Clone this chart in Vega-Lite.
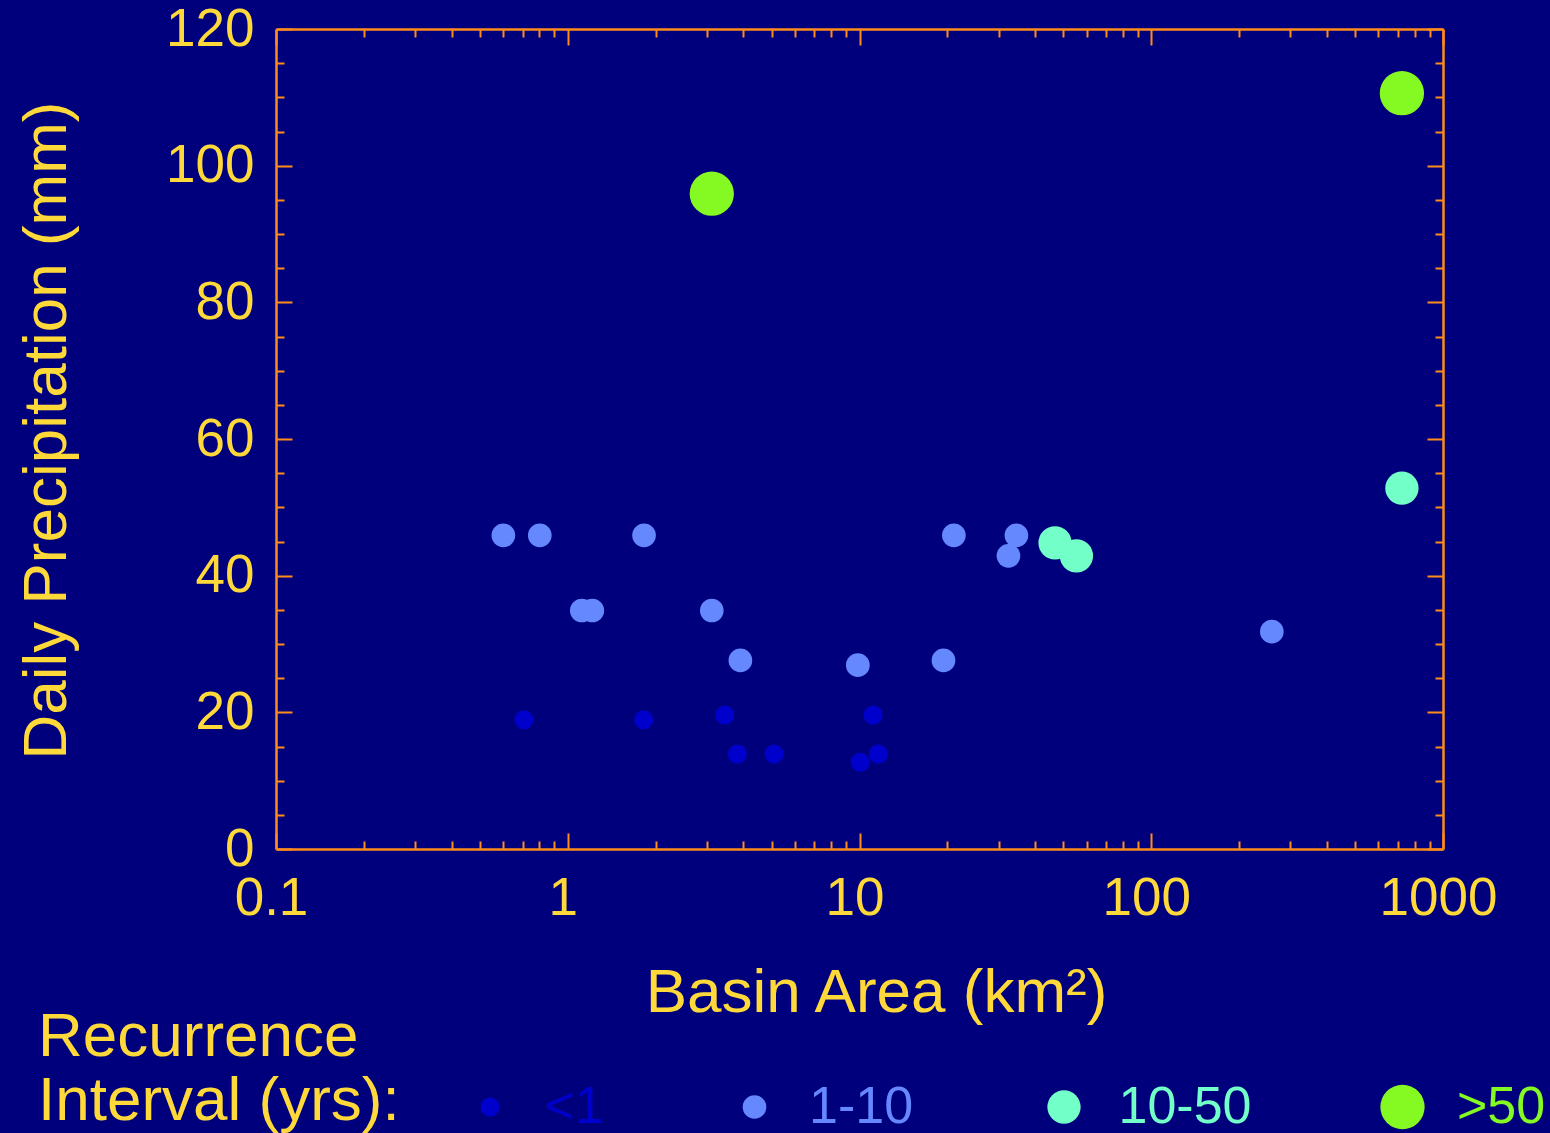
{
  "$schema": "https://vega.github.io/schema/vega-lite/v6.json",
  "width": 1167,
  "height": 820,
  "autosize": {"type": "none"},
  "padding": {"left": 276, "top": 29, "right": 107, "bottom": 284},
  "background": "#00007c",
  "config": {
    "view": {"stroke": null},
    "font": "Liberation Sans",
    "axis": {
      "domainColor": "#ff8c1a",
      "domainWidth": 2.5,
      "tickColor": "#ff8c1a",
      "tickWidth": 2,
      "labelColor": "#ffd83a",
      "labelFont": "Liberation Sans",
      "labelFontSize": 53,
      "titleColor": "#ffd83a",
      "titleFont": "Liberation Sans",
      "titleFontSize": 62,
      "titleFontWeight": "normal",
      "grid": false,
      "labelFlush": false,
      "labelOverlap": false,
      "labelLimit": 1000
    },
    "legend": {
      "orient": "none",
      "legendX": -238,
      "legendY": 1052,
      "direction": "horizontal",
      "columns": 4,
      "gridAlign": "none",
      "columnPadding": 124.5,
      "labelOffset": 28.5,
      "labelFont": "Liberation Sans",
      "labelFontSize": 52,
      "labelLimit": 1000,
      "symbolType": "circle",
      "symbolStrokeWidth": 0,
      "symbolOpacity": 1,
      "titleOrient": "left",
      "titleAnchor": "end",
      "titleBaseline": "bottom",
      "titleFont": "Liberation Sans",
      "titleFontSize": 62,
      "titleFontWeight": "normal",
      "titleColor": "#ffd83a",
      "titleLineHeight": 64,
      "titlePadding": 64,
      "titleLimit": 2000
    }
  },
  "data": {
    "values": [
      {"area": 0.708, "precip": 18.9, "ri": "<1"},
      {"area": 1.822, "precip": 18.9, "ri": "<1"},
      {"area": 3.453, "precip": 19.6, "ri": "<1"},
      {"area": 3.814, "precip": 13.9, "ri": "<1"},
      {"area": 5.095, "precip": 13.9, "ri": "<1"},
      {"area": 10.05, "precip": 12.7, "ri": "<1"},
      {"area": 11.13, "precip": 19.6, "ri": "<1"},
      {"area": 11.6, "precip": 13.9, "ri": "<1"},
      {"area": 0.6016, "precip": 45.9, "ri": "1-10"},
      {"area": 0.802, "precip": 45.9, "ri": "1-10"},
      {"area": 1.826, "precip": 45.9, "ri": "1-10"},
      {"area": 1.117, "precip": 34.9, "ri": "1-10"},
      {"area": 1.214, "precip": 34.9, "ri": "1-10"},
      {"area": 3.117, "precip": 34.9, "ri": "1-10"},
      {"area": 3.906, "precip": 27.6, "ri": "1-10"},
      {"area": 9.87, "precip": 26.9, "ri": "1-10"},
      {"area": 19.4, "precip": 27.6, "ri": "1-10"},
      {"area": 21.06, "precip": 45.9, "ri": "1-10"},
      {"area": 32.4, "precip": 42.9, "ri": "1-10"},
      {"area": 34.5, "precip": 45.9, "ri": "1-10"},
      {"area": 259, "precip": 31.8, "ri": "1-10"},
      {"area": 46.8, "precip": 44.8, "ri": "10-50"},
      {"area": 55.4, "precip": 42.9, "ri": "10-50"},
      {"area": 723, "precip": 52.8, "ri": "10-50"},
      {"area": 3.117, "precip": 95.9, "ri": ">50"},
      {"area": 723, "precip": 110.6, "ri": ">50"}
    ]
  },
  "layer": [
    {
      "mark": {"type": "point", "shape": "circle", "filled": true, "opacity": 1, "strokeWidth": 0},
      "encoding": {
        "x": {
          "field": "area",
          "type": "quantitative",
          "scale": {"type": "log", "domain": [0.1, 1000], "nice": false},
          "axis": {
            "orient": "bottom",
            "values": [0.1, 0.2, 0.3, 0.4, 0.5, 0.6, 0.7, 0.8, 0.9, 1, 2, 3, 4, 5, 6, 7, 8, 9, 10, 20, 30, 40, 50, 60, 70, 80, 90, 100, 200, 300, 400, 500, 600, 700, 800, 900, 1000],
            "tickSize": {"condition": {"test": "abs(log(datum.value)/LN10 - round(log(datum.value)/LN10)) < 0.0001", "value": -16}, "value": -8},
            "labelExpr": "abs(log(datum.value)/LN10 - round(log(datum.value)/LN10)) < 0.0001 ? format(datum.value, '~g') : ''",
            "labelBaseline": "alphabetic",
            "labelPadding": 81,
            "labelOffset": -5,
            "title": "Basin Area (km²)",
            "titleX": 600,
            "titleY": 162,
            "titleBaseline": "alphabetic",
            "titleAlign": "center"
          }
        },
        "y": {
          "field": "precip",
          "type": "quantitative",
          "scale": {"domain": [0, 120], "nice": false, "zero": false},
          "axis": {
            "orient": "left",
            "values": [0, 5, 10, 15, 20, 25, 30, 35, 40, 45, 50, 55, 60, 65, 70, 75, 80, 85, 90, 95, 100, 105, 110, 115, 120],
            "tickSize": {"condition": {"test": "datum.value % 20 === 0", "value": -16}, "value": -8},
            "labelExpr": "datum.value % 20 === 0 ? datum.label : ''",
            "labelPadding": 38,
            "title": "Daily Precipitation (mm)",
            "titleAngle": -90,
            "titleX": -211,
            "titleY": 401,
            "titleBaseline": "alphabetic",
            "titleAlign": "center"
          }
        },
        "color": {
          "field": "ri",
          "type": "ordinal",
          "scale": {"domain": ["<1", "1-10", "10-50", ">50"], "range": ["#0000cc", "#6688ff", "#72ffc8", "#84fa22"]},
          "legend": {
            "title": ["Recurrence", "Interval (yrs):"],
            "encode": {"labels": {"update": {"fill": {"scale": "color", "field": "value"}}}}
          }
        },
        "size": {
          "field": "ri",
          "type": "ordinal",
          "scale": {"type": "ordinal", "domain": ["<1", "1-10", "10-50", ">50"], "range": [360, 560, 1110, 1960]},
          "legend": {
            "title": ["Recurrence", "Interval (yrs):"],
            "encode": {"labels": {"update": {"fill": {"scale": "color", "field": "value"}}}}
          }
        }
      }
    },
    {
      "mark": {"type": "point", "opacity": 0},
      "encoding": {
        "x": {
          "field": "area",
          "type": "quantitative",
          "scale": {"type": "log", "domain": [0.1, 1000], "nice": false},
          "axis": {
            "orient": "top",
            "values": [0.1, 0.2, 0.3, 0.4, 0.5, 0.6, 0.7, 0.8, 0.9, 1, 2, 3, 4, 5, 6, 7, 8, 9, 10, 20, 30, 40, 50, 60, 70, 80, 90, 100, 200, 300, 400, 500, 600, 700, 800, 900, 1000],
            "tickSize": {"condition": {"test": "abs(log(datum.value)/LN10 - round(log(datum.value)/LN10)) < 0.0001", "value": -16}, "value": -8},
            "labels": false,
            "title": null
          }
        },
        "y": {
          "field": "precip",
          "type": "quantitative",
          "scale": {"domain": [0, 120], "nice": false, "zero": false},
          "axis": {
            "orient": "right",
            "values": [0, 5, 10, 15, 20, 25, 30, 35, 40, 45, 50, 55, 60, 65, 70, 75, 80, 85, 90, 95, 100, 105, 110, 115, 120],
            "tickSize": {"condition": {"test": "datum.value % 20 === 0", "value": -16}, "value": -8},
            "labels": false,
            "title": null
          }
        }
      }
    }
  ],
  "resolve": {"axis": {"x": "independent", "y": "independent"}}
}
